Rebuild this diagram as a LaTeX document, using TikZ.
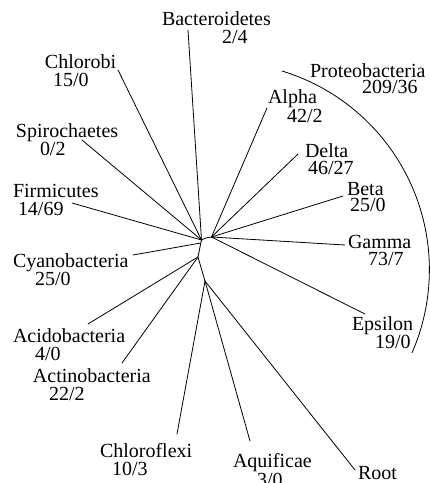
\documentclass[tikz,border=0pt]{standalone}
\usepackage{fontspec}
\setmainfont{Liberation Serif}
\begin{document}
\begin{tikzpicture}[x=1pt,y=-1pt,
  br/.style={line width=0.8pt, line cap=round, line join=round},
  lbl/.style={anchor=base west, inner sep=0pt, outer sep=0pt, font=\fontsize{20}{18}\selectfont}]
\useasboundingbox (0,0) rectangle (430,483);
% internal nodes
\coordinate (A) at (201.5,240);
\coordinate (P) at (211.5,237);
\coordinate (J) at (200.8,243);
\coordinate (B) at (198,257);
\coordinate (C) at (205,281);
% leaf ends
\coordinate (bac) at (188,30);
\coordinate (chl) at (118,70);
\coordinate (spi) at (82,140);
\coordinate (fir) at (72,203);
\coordinate (cya) at (133,255);
\coordinate (aci) at (88,324);
\coordinate (act) at (122,363);
\coordinate (chf) at (177,434);
\coordinate (aqu) at (250,441);
\coordinate (roo) at (355,470);
\coordinate (alp) at (267,108);
\coordinate (del) at (298,154);
\coordinate (bet) at (343,196);
\coordinate (gam) at (345,245);
\coordinate (eps) at (365,314);
% labels
\node[lbl] (tbac) at (162,25) {Bacteroidetes};
\node[lbl] (nbac) at (222,43) {2/4};
\node[lbl] (tchl) at (45,68) {Chlorobi};
\node[lbl] (nchl) at (53,86) {15/0};
\node[lbl] (tspi) at (16,137) {Spirochaetes};
\node[lbl] (nspi) at (40,155) {0/2};
\node[lbl] (tfir) at (13,197) {Firmicutes};
\node[lbl] (nfir) at (18,215) {14/69};
\node[lbl] (tcya) at (13,267) {Cyanobacteria};
\node[lbl] (ncya) at (35,285) {25/0};
\node[lbl] (taci) at (13,342) {Acidobacteria};
\node[lbl] (naci) at (35,360) {4/0};
\node[lbl] (tact) at (33,382) {Actinobacteria};
\node[lbl] (nact) at (49,400) {22/2};
\node[lbl] (tchf) at (100,457) {Chloroflexi};
\node[lbl] (nchf) at (112,475) {10/3};
\node[lbl] (taqu) at (233,467) {Aquificae};
\node[lbl] (naqu) at (257,486) {3/0};
\node[lbl] (troo) at (358,479) {Root};
\node[lbl] (tpro) at (310,77) {Proteobacteria};
\node[lbl] (npro) at (362,93) {209/36};
\node[lbl] (talp) at (268,103) {Alpha};
\node[lbl] (nalp) at (287,122) {42/2};
\node[lbl] (tdel) at (305,157) {Delta};
\node[lbl] (ndel) at (308,174) {46/27};
\node[lbl] (tbet) at (347,195) {Beta};
\node[lbl] (nbet) at (350,211) {25/0};
\node[lbl] (tgam) at (348,248) {Gamma};
\node[lbl] (ngam) at (368,265) {73/7};
\node[lbl] (teps) at (352,330) {Epsilon};
\node[lbl] (neps) at (375,348) {19/0};
% branches
\draw[br] (bac) -- (A);
\draw[br] (chl) -- (A);
\draw[br] (spi) -- (A);
\draw[br] (fir) -- (A);
\draw[br] (cya) -- (J);
\draw[br] (A) .. controls (205,238) .. (P);
\draw[br] (A) -- (J) -- (B) -- (C);
\draw[br] (aci) -- (B);
\draw[br] (act) -- (B);
\draw[br] (C) -- (chf);
\draw[br] (C) -- (aqu);
\draw[br] (C) -- (roo);
\draw[br] (P) -- (alp);
\draw[br] (P) -- (del);
\draw[br] (P) -- (bet);
\draw[br] (P) -- (gam);
\draw[br] (P) -- (eps);
% Proteobacteria bracket arc
\coordinate (arcC) at (221.8,269.7);
\draw[br] (arcC) ++(73.1:207.6 and -207.6) arc[start angle=73.1, end angle=-23.6, x radius=207.6, y radius=-207.6];
\end{tikzpicture}
\end{document}
